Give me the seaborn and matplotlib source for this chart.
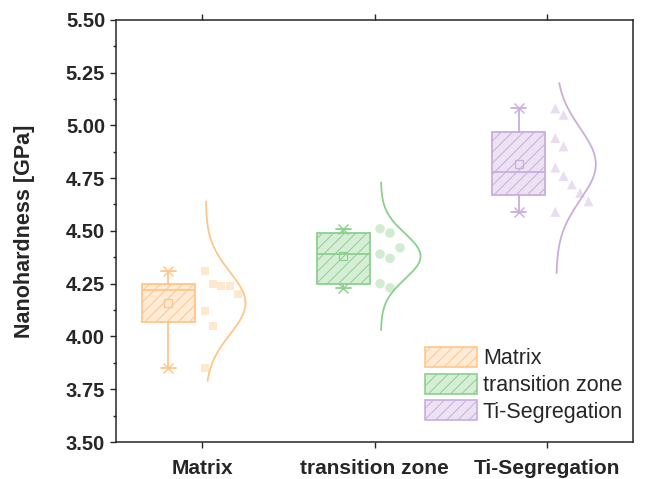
import numpy as np
import pandas as pd
import matplotlib.pyplot as plt
import seaborn as sns
from matplotlib.colors import to_rgb
from matplotlib.patches import Patch

# values
groups = ['Matrix', 'transition zone', 'Ti-Segregation']
matrix = [4.31, 4.25, 4.24, 4.24, 4.20, 4.12, 4.05, 3.85]
transition = [4.51, 4.49, 4.42, 4.39, 4.37, 4.25, 4.23]
ti_seg = [5.08, 5.05, 4.94, 4.90, 4.80, 4.76, 4.72, 4.68, 4.64, 4.59]
curve_low = [3.79, 4.03, 4.30]
curve_high = [4.64, 4.73, 5.20]
yticks = [3.50, 3.75, 4.00, 4.25, 4.50, 4.75, 5.00, 5.25, 5.50]

colors = ['#FFC68A', '#8CD08C', '#C9AEDD']
markers = ['s', 'o', '^']
msizes = [33, 47, 52]

# layout: small drift of each group, stacking bins (anchor, width) and step
shift = [0.0, 0.016, 0.033]
stack_bins = [(4.16, 0.16), (4.40, 0.12), (4.62, 0.19)]
stack_step = [0.048, 0.058, 0.048]

values = [matrix, transition, ti_seg]
df = pd.concat([pd.DataFrame({'group': g, 'value': v}) for g, v in zip(groups, values)],
               ignore_index=True)

# bin-based stacking of points beside each box
parts = []
for i, g in enumerate(groups):
    d = df[df.group == g].copy()
    a, w = stack_bins[i]
    d['bin'] = np.floor((d.value - a) / w)
    d['rank'] = d.groupby('bin')['value'].rank(method='first', ascending=False) - 1
    d['x'] = i + 1 + shift[i] + 0.016 + d['rank'] * stack_step[i]
    parts.append(d)
pts = pd.concat(parts)

sns.set_theme(style='ticks')
plt.rcParams['font.family'] = ['Liberation Sans', 'DejaVu Sans']
plt.rcParams['hatch.linewidth'] = 0.7

fig = plt.figure(figsize=(6.47, 4.79), dpi=100)
ax = fig.add_axes([0.1793, 0.0772, 0.7991, 0.8816])

for i, g in enumerate(groups):
    v = np.array(values[i])
    q1, med, q3 = np.percentile(v, [25, 50, 75], method='weibull')
    stats = [dict(med=med, q1=q1, q3=q3, whislo=v.min(), whishi=v.max(), mean=v.mean(),
                  fliers=[], label=g)]
    pos = i + 1 + shift[i] - 0.197
    c = colors[i]
    bp = ax.bxp(stats, positions=[pos], widths=0.31, patch_artist=True, showmeans=True,
                showfliers=False, capwidths=[0.087],
                boxprops=dict(facecolor=(*to_rgb(c), 0.35), edgecolor=c, lw=1.3),
                medianprops=dict(color=c, lw=1.3),
                whiskerprops=dict(color=c, lw=1.3),
                capprops=dict(color=c, lw=1.3),
                meanprops=dict(marker='s', markerfacecolor='none', markeredgecolor=c,
                               markersize=6, markeredgewidth=0.9))
    for b in bp['boxes']:
        b.set_hatch('///')
    ax.plot([pos, pos], [v.min(), v.max()], ls='none', marker='x', ms=7, mew=1.0, color=c)

    # normal curve
    m, sd = v.mean(), v.std(ddof=1)
    yy = np.linspace(curve_low[i], curve_high[i], 200)
    pdf = np.exp(-0.5 * ((yy - m) / sd) ** 2)
    base = i + 1 + shift[i] + 0.021
    sns.lineplot(x=base + 0.23 * pdf, y=yy, orient='y', estimator=None, sort=False,
                 color=c, lw=1.3, ax=ax)

sns.scatterplot(data=pts, x='x', y='value', hue='group', style='group', size='group',
                palette=dict(zip(groups, colors)), markers=dict(zip(groups, markers)),
                sizes=dict(zip(groups, msizes)), alpha=0.4, edgecolor='none',
                legend=False, ax=ax)

ax.set_xlim(0.5, 3.5)
ax.set_ylim(3.5, 5.5)
ax.set_xticks([1, 2, 3])
ax.set_xticklabels(groups, fontsize=15, fontweight='bold')
ax.set_yticks(yticks)
ax.set_yticklabels([f'{t:.2f}' for t in yticks], fontsize=14.5, fontweight='bold')
ax.set_yticks(np.arange(3.625, 5.5, 0.25), minor=True)
ax.set_xlabel('')
ax.set_ylabel('Nanohardness [GPa]', fontsize=15.5, fontweight='bold', labelpad=22)

for s in ax.spines.values():
    s.set_color('#262626')
    s.set_linewidth(1.1)
ax.tick_params(axis='x', which='major', top=True, bottom=True, direction='out',
               length=4.3, width=1.0, color='#262626', pad=8)
ax.tick_params(axis='y', which='major', left=True, right=False, direction='out',
               length=4.3, width=1.0, color='#262626')
ax.tick_params(axis='y', which='minor', left=True, right=False, direction='out',
               length=2.3, width=1.0, color='#262626')

handles = [Patch(facecolor=(*to_rgb(c), 0.35), edgecolor=c,
                 hatch='///', lw=1.2, label=g) for g, c in zip(groups, colors)]
ax.legend(handles=handles, loc='upper left', bbox_to_anchor=(0.598, 0.225),
          frameon=False, fontsize=15.5, borderpad=0, borderaxespad=0,
          handlelength=2.4, handleheight=1.05, handletextpad=0.28, labelspacing=0.2)

fig.savefig('out.png', dpi=100)
